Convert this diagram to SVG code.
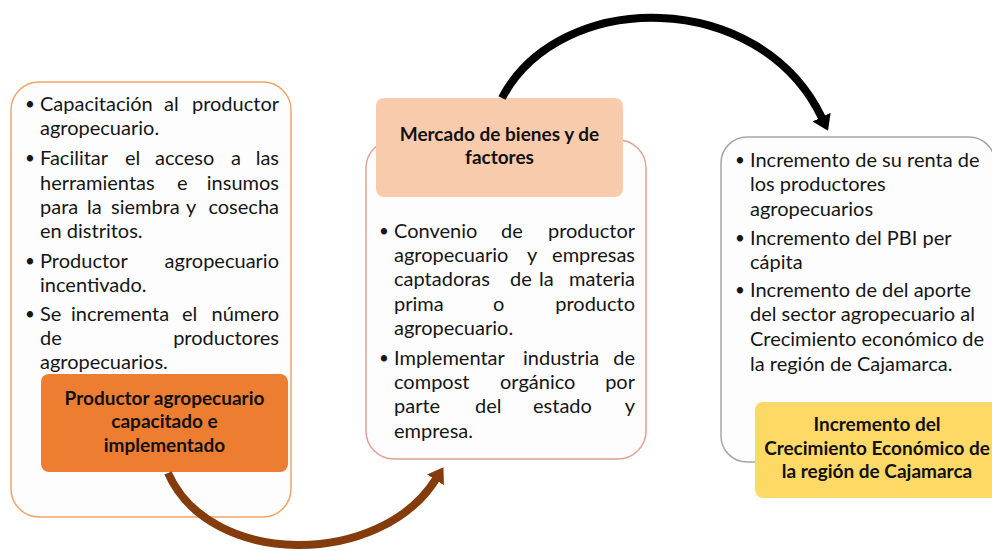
<svg xmlns="http://www.w3.org/2000/svg" width="992" height="551" viewBox="0 0 992 551">
<defs>
<style>
.t{font-family:Lato,"Liberation Sans",sans-serif;font-size:20px;fill:#161616}
.r{text-anchor:end}
.bu{font-family:Lato,"Liberation Sans",sans-serif;font-size:17px;fill:#161616}
.b{font-family:Lato,"Liberation Sans",sans-serif;font-weight:bold;font-size:19px;fill:#111;text-anchor:middle}
.box{fill:#fdfdfd;stroke-width:1.5}
.arc{fill:none;stroke-width:8}
</style>
<marker id="headK" viewBox="0 -11 16 22" refX="1" refY="0" markerWidth="16" markerHeight="22" markerUnits="userSpaceOnUse" orient="auto">
<path d="M0,-10 L15,0 L0,10 z" fill="#000"/>
</marker>
<marker id="headB" viewBox="0 -11 16 22" refX="1" refY="0" markerWidth="16" markerHeight="22" markerUnits="userSpaceOnUse" orient="auto">
<path d="M0,-10 L15,0 L0,10 z" fill="#843C0C"/>
</marker>
</defs>
<rect width="992" height="551" fill="#fff"/>

<g id="node-productor">
<rect class="box" x="11" y="82" width="280" height="435" rx="28" stroke="#F4A366"/>
<text class="bu" x="25" y="110">•</text>
<text class="t" y="111"><tspan x="40">Capacitación</tspan><tspan x="164">al</tspan></text><text class="t r" x="279" y="111">productor</text>
<text class="t" x="40" y="135">agropecuario.</text>
<text class="bu" x="25" y="164">•</text>
<text class="t" y="165"><tspan x="40">Facilitar</tspan><tspan x="125">el</tspan><tspan x="155">acceso</tspan><tspan x="231">a</tspan></text><text class="t r" x="279" y="165">las</text>
<text class="t" y="190"><tspan x="40">herramientas</tspan><tspan x="177">e</tspan></text><text class="t r" x="279" y="190">insumos</text>
<text class="t" y="214"><tspan x="40">para</tspan><tspan x="87">la</tspan><tspan x="111">siembra</tspan><tspan x="186">y</tspan></text><text class="t r" x="279" y="214">cosecha</text>
<text class="t" x="40" y="238">en distritos.</text>
<text class="bu" x="25" y="267">•</text>
<text class="t" x="40" y="268">Productor</text><text class="t r" x="279" y="268">agropecuario</text>
<text class="t" x="40" y="292">incentivado.</text>
<text class="bu" x="25" y="320">•</text>
<text class="t" y="321"><tspan x="40">Se</tspan><tspan x="71">incrementa</tspan><tspan x="182">el</tspan></text><text class="t r" x="279" y="321">número</text>
<text class="t" x="40" y="345">de</text><text class="t r" x="279" y="345">productores</text>
<text class="t" x="40" y="369">agropecuarios.</text>
<rect x="41" y="374" width="247" height="98" rx="8" fill="#ED7D31"/>
<text class="b" x="164.5" y="405">Productor agropecuario</text>
<text class="b" x="164.5" y="428">capacitado e</text>
<text class="b" x="164.5" y="452">implementado</text>
</g>

<g id="node-mercado">
<rect class="box" x="366" y="140" width="280" height="319" rx="28" stroke="#DDA395"/>
<rect x="376" y="98" width="247" height="99" rx="8" fill="#F8CBAD"/>
<text class="b" x="499.5" y="141">Mercado de bienes y de</text>
<text class="b" x="499.5" y="164">factores</text>
<text class="bu" x="379" y="237">•</text>
<text class="t" y="238"><tspan x="394">Convenio</tspan><tspan x="501">de</tspan></text><text class="t r" x="635" y="238">productor</text>
<text class="t" y="262"><tspan x="394">agropecuario</tspan><tspan x="527">y</tspan></text><text class="t r" x="635" y="262">empresas</text>
<text class="t" y="286"><tspan x="394">captadoras</tspan><tspan x="510">de</tspan><tspan x="539">la</tspan></text><text class="t r" x="635" y="286">materia</text>
<text class="t" y="311"><tspan x="394">prima</tspan><tspan x="493">o</tspan></text><text class="t r" x="635" y="311">producto</text>
<text class="t" x="394" y="335">agropecuario.</text>
<text class="bu" x="379" y="364">•</text>
<text class="t" y="365"><tspan x="394">Implementar</tspan><tspan x="523">industria</tspan></text><text class="t r" x="635" y="365">de</text>
<text class="t" y="389"><tspan x="394">compost</tspan><tspan x="500">orgánico</tspan></text><text class="t r" x="635" y="389">por</text>
<text class="t" y="413"><tspan x="394">parte</tspan><tspan x="475">del</tspan><tspan x="533">estado</tspan></text><text class="t r" x="635" y="413">y</text>
<text class="t" x="394" y="438">empresa.</text>
</g>

<g id="node-crecimiento">
<rect class="box" x="721" y="137" width="274" height="325" rx="26" stroke="#A6A6A6"/>
<text class="bu" x="735" y="166">•</text>
<text class="t" x="750" y="167">Incremento de su renta de</text>
<text class="t" x="750" y="191">los productores</text>
<text class="t" x="750" y="216">agropecuarios</text>
<text class="bu" x="735" y="244">•</text>
<text class="t" x="750" y="245">Incremento del PBI per</text>
<text class="t" x="750" y="269">cápita</text>
<text class="bu" x="735" y="296">•</text>
<text class="t" x="750" y="297">Incremento de del aporte</text>
<text class="t" x="750" y="321">del sector agropecuario al</text>
<text class="t" x="750" y="346">Crecimiento económico de</text>
<text class="t" x="750" y="371">la región de Cajamarca.</text>
<rect x="755" y="402" width="244" height="96" rx="8" fill="#FFD966"/>
<text class="b" x="877" y="431">Incremento del</text>
<text class="b" x="877" y="455">Crecimiento Económico de</text>
<text class="b" x="877" y="478">la región de Cajamarca</text>
</g>

<g id="connectors">
<path class="arc" d="M168,473 C210,568 380,568 436,479" stroke="#843C0C" marker-end="url(#headB)"/>
<path class="arc" d="M502,98 C560,-12 760,-12 822,118" stroke="#000" marker-end="url(#headK)"/>
</g>
</svg>
